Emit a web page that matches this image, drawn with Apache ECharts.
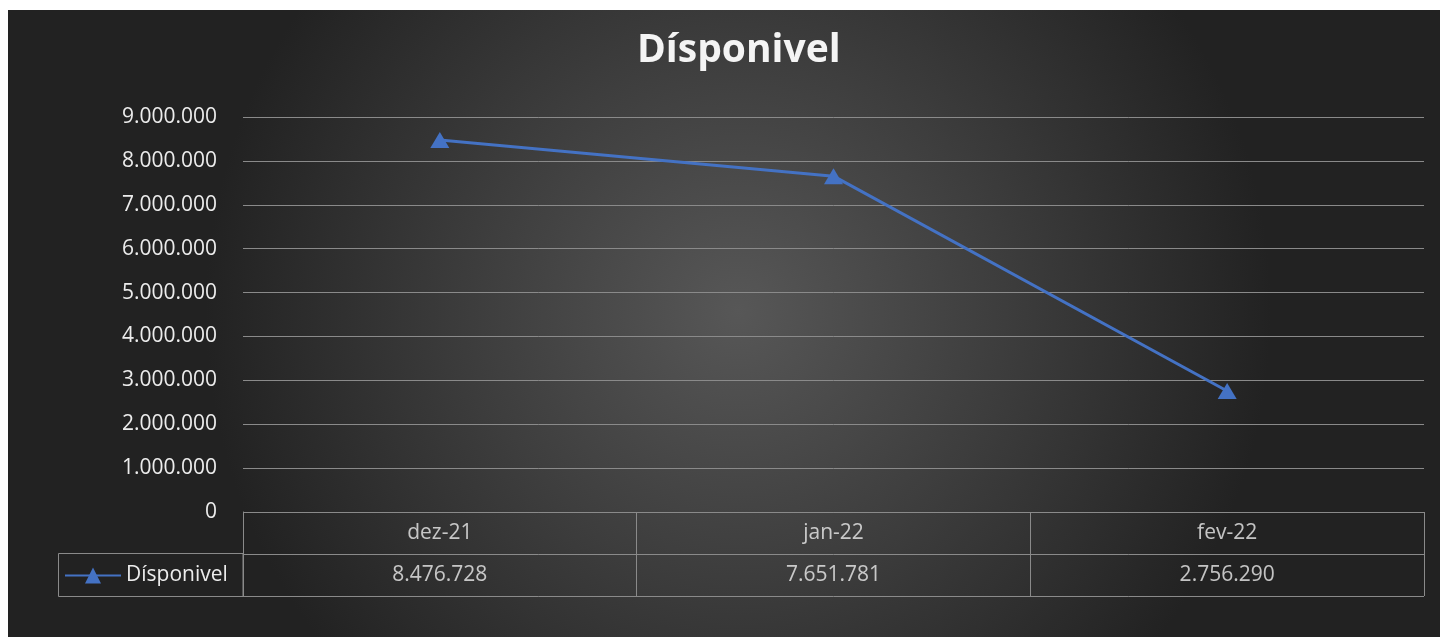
<!DOCTYPE html>
<html>
<head>
<meta charset="utf-8">
<script src="https://cdn.jsdelivr.net/npm/echarts@6/dist/echarts.min.js"></script>
<style>
  html, body { margin: 0; padding: 0; background: #fff; }
  #chart_warp { position: absolute; left: 8px; top: 10px; width: 1432px; height: 627px; }
</style>
</head>
<body>
<div id="chart_warp"></div>
<script>
// dados
var categories = ['dez-21', 'jan-22', 'fev-22'];
var disponivel = [8476728, 7651781, 2756290];
var seriesName = 'Dísponivel';

var font = '"Open Sans", "Noto Sans", sans-serif';
var textColor = '#ececec';
var lineColor = '#8a8a8a';

// formato pt-BR: 8.476.728
function fmt(v) {
    return String(Math.round(v)).replace(/\B(?=(\d{3})+(?!\d))/g, '.');
}

var myChart = echarts.init(document.getElementById('chart_warp'));

myChart.setOption({
    animation: false,
    backgroundColor: {
        type: 'radial', x: 0.51, y: 0.48, r: 0.85,
        colorStops: [
            {offset: 0, color: '#575757'},
            {offset: 0.5, color: '#3d3d3d'},
            {offset: 1, color: '#222222'}
        ]
    },
    title: {
        text: seriesName,
        left: 624,
        top: 16,
        textStyle: {color: '#f4f4f4', fontSize: 39, fontWeight: 'bold', fontFamily: font}
    },
    legend: {
        data: [seriesName],
        left: 56,
        top: 555,
        padding: 0,
        itemWidth: 56,
        itemHeight: 20,
        itemGap: 4,
        textStyle: {color: textColor, fontSize: 21, fontFamily: font}
    },
    grid: [
        {left: 235, right: 16, top: 107, bottom: 125},
        {left: 235, right: 16, top: 502, bottom: 41}
    ],
    xAxis: [
        {
            type: 'category', gridIndex: 0, data: categories,
            axisLine: {show: false}, axisTick: {show: false}, axisLabel: {show: false}
        },
        {
            type: 'category', gridIndex: 1, data: categories,
            axisLine: {show: false}, axisTick: {show: false}, axisLabel: {show: false},
            splitLine: {show: true, lineStyle: {color: lineColor, width: 1}}
        }
    ],
    yAxis: [
        {
            type: 'value', gridIndex: 0, min: 0, max: 9000000, interval: 1000000,
            axisLine: {show: false}, axisTick: {show: false},
            axisLabel: {
                color: textColor, fontSize: 21, fontFamily: font, margin: 26,
                formatter: fmt
            },
            splitLine: {lineStyle: {color: lineColor, width: 1}}
        },
        {
            type: 'value', gridIndex: 1, min: 0, max: 2, interval: 1,
            axisLine: {show: true, lineStyle: {color: lineColor}},
            axisTick: {show: false}, axisLabel: {show: false},
            splitLine: {show: true, lineStyle: {color: lineColor, width: 1}}
        }
    ],
    series: [
        {
            name: seriesName,
            type: 'line',
            xAxisIndex: 0, yAxisIndex: 0,
            data: disponivel,
            color: '#4472C4',
            lineStyle: {width: 3, color: '#4472C4'},
            symbol: 'triangle',
            symbolSize: [19, 16],
            itemStyle: {color: '#4472C4'}
        },
        {
            // linha de categorias da tabela
            type: 'scatter', xAxisIndex: 1, yAxisIndex: 1, silent: true,
            symbolSize: 0,
            data: categories.map(function (c) { return [c, 1.5]; }),
            label: {
                show: true, position: 'inside', color: textColor, fontSize: 21, fontFamily: font,
                formatter: function (p) { return p.value[0]; }
            }
        },
        {
            // linha de valores da tabela
            type: 'scatter', xAxisIndex: 1, yAxisIndex: 1, silent: true,
            symbolSize: 0,
            data: categories.map(function (c, i) { return [c, 0.5, disponivel[i]]; }),
            label: {
                show: true, position: 'inside', color: textColor, fontSize: 21, fontFamily: font,
                formatter: function (p) { return fmt(p.value[2]); }
            }
        }
    ],
    graphic: [
        {
            // célula da legenda
            type: 'rect', silent: true,
            shape: {x: 50.5, y: 543.5, width: 184.5, height: 43},
            style: {fill: 'none', stroke: lineColor, lineWidth: 1}
        }
    ]
});
</script>
</body>
</html>
